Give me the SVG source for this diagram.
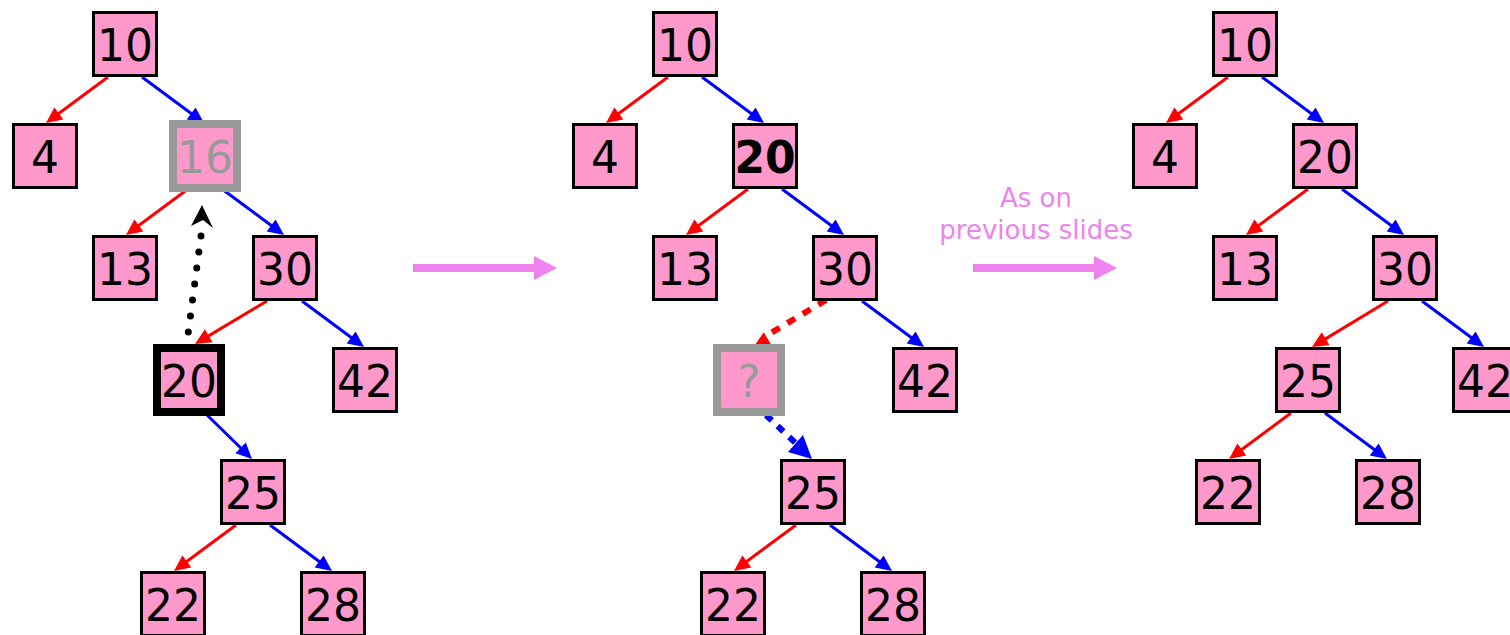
<svg xmlns="http://www.w3.org/2000/svg" width="1510" height="635" viewBox="0 0 1510 635">
  <style>
    .box { fill: #ff99cc; stroke: #000000; stroke-width: 3; }
    .ghost { fill: #ff99cc; stroke: #999999; stroke-width: 8; }
    .heavy { fill: #ff99cc; stroke: #000000; stroke-width: 8; }
    .lbl { font-family: "DejaVu Sans", Verdana, sans-serif; font-size: 44px; fill: #000000; text-anchor: middle; }
    .lbl.grey { fill: #999999; }
    .lbl.bold { font-weight: bold; }
    .red { stroke: #ff0000; stroke-width: 3; fill: none; }
    .blue { stroke: #0000ff; stroke-width: 3; fill: none; }
    .hr { fill: #ff0000; }
    .hb { fill: #0000ff; }
    .note { font-family: "DejaVu Sans", Verdana, sans-serif; font-size: 26px; fill: #ee82ee; text-anchor: middle; }
  </style>
  <defs>
    <!-- arrowhead with its tip at the origin, pointing along +x -->
    <path id="head" d="M-16,-7.5 L0,0 L-16,7.5 Z"/>
  </defs>

  <!-- connectors -->
  <g id="connectors">
    <!-- left tree -->
    <line class="red" x1="108" y1="77" x2="50" y2="120"/>
    <use href="#head" class="hr" transform="translate(46,123) rotate(143.4)"/>
    <line class="blue" x1="142" y1="77" x2="200" y2="120"/>
    <use href="#head" class="hb" transform="translate(204,123) rotate(36.6)"/>
    <line class="red" x1="188" y1="189" x2="130" y2="232"/>
    <use href="#head" class="hr" transform="translate(126,235) rotate(143.4)"/>
    <line class="blue" x1="222" y1="189" x2="280" y2="232"/>
    <use href="#head" class="hb" transform="translate(284,235) rotate(36.6)"/>
    <line class="red" x1="267" y1="301" x2="199" y2="341.6"/>
    <use href="#head" class="hr" transform="translate(195,344) rotate(149.2)"/>
    <line class="blue" x1="302" y1="301" x2="360" y2="344"/>
    <use href="#head" class="hb" transform="translate(364,347) rotate(36.6)"/>
    <line class="blue" x1="206" y1="414" x2="249" y2="456"/>
    <use href="#head" class="hb" transform="translate(252,459) rotate(44.4)"/>
    <line class="red" x1="236" y1="525" x2="178" y2="568"/>
    <use href="#head" class="hr" transform="translate(174,571) rotate(143.4)"/>
    <line class="blue" x1="270" y1="525" x2="328" y2="568"/>
    <use href="#head" class="hb" transform="translate(332,571) rotate(36.6)"/>
    <!-- dotted move of 20 up to the removed node -->
    <line x1="188.3" y1="332" x2="201" y2="236" stroke="#000000" stroke-width="7" stroke-linecap="round" stroke-dasharray="0 16.13"/>
    <path d="M202,205 L213,228 L203,220 L191,226 Z" fill="#000000"/>

    <!-- middle tree -->
    <line class="red" x1="668" y1="77" x2="610" y2="120"/>
    <use href="#head" class="hr" transform="translate(606,123) rotate(143.4)"/>
    <line class="blue" x1="702" y1="77" x2="760" y2="120"/>
    <use href="#head" class="hb" transform="translate(764,123) rotate(36.6)"/>
    <line class="red" x1="748" y1="189" x2="690" y2="232"/>
    <use href="#head" class="hr" transform="translate(686,235) rotate(143.4)"/>
    <line class="blue" x1="782" y1="189" x2="840" y2="232"/>
    <use href="#head" class="hb" transform="translate(844,235) rotate(36.6)"/>
    <line class="blue" x1="862" y1="301" x2="920" y2="344"/>
    <use href="#head" class="hb" transform="translate(924,347) rotate(36.6)"/>
    <line class="red" x1="796" y1="525" x2="738" y2="568"/>
    <use href="#head" class="hr" transform="translate(734,571) rotate(143.4)"/>
    <line class="blue" x1="830" y1="525" x2="888" y2="568"/>
    <use href="#head" class="hb" transform="translate(892,571) rotate(36.6)"/>
    <!-- dashed links around the vacated slot -->
    <line x1="826" y1="300" x2="766" y2="336" stroke="#ff0000" stroke-width="6" stroke-dasharray="9 9"/>
    <path d="M750,352 L763.8,332.2 L774,349.4 Z" fill="#ff0000"/>
    <line x1="766" y1="415" x2="796" y2="443.5" stroke="#0000ff" stroke-width="6" stroke-dasharray="8 8"/>
    <path d="M812,459 L788,452 L803,435 Z" fill="#0000ff"/>

    <!-- right tree -->
    <line class="red" x1="1228" y1="77" x2="1170" y2="120"/>
    <use href="#head" class="hr" transform="translate(1166,123) rotate(143.4)"/>
    <line class="blue" x1="1262" y1="77" x2="1320" y2="120"/>
    <use href="#head" class="hb" transform="translate(1324,123) rotate(36.6)"/>
    <line class="red" x1="1308" y1="189" x2="1250" y2="232"/>
    <use href="#head" class="hr" transform="translate(1246,235) rotate(143.4)"/>
    <line class="blue" x1="1342" y1="189" x2="1400" y2="232"/>
    <use href="#head" class="hb" transform="translate(1404,235) rotate(36.6)"/>
    <line class="red" x1="1388" y1="301" x2="1316" y2="344.6"/>
    <use href="#head" class="hr" transform="translate(1312,347) rotate(148.8)"/>
    <line class="blue" x1="1422" y1="301" x2="1480" y2="344"/>
    <use href="#head" class="hb" transform="translate(1484,347) rotate(36.6)"/>
    <line class="red" x1="1291" y1="413" x2="1233" y2="456"/>
    <use href="#head" class="hr" transform="translate(1229,459) rotate(143.4)"/>
    <line class="blue" x1="1325" y1="413" x2="1383" y2="456"/>
    <use href="#head" class="hb" transform="translate(1387,459) rotate(36.6)"/>

    <!-- step arrows -->
    <polygon points="413,264 534,264 534,256 557,268 534,280 534,272 413,272" fill="#ee82ee"/>
    <polygon points="973,264 1094,264 1094,256 1117,268 1094,280 1094,272 973,272" fill="#ee82ee"/>
  </g>

  <!-- left tree nodes -->
  <g id="t1-n10"><rect class="box" x="93.5" y="12.5" width="63" height="63"/><text class="lbl" x="125" y="60.5">10</text></g>
  <g id="t1-n4"><rect class="box" x="13.5" y="124.5" width="63" height="63"/><text class="lbl" x="45" y="172.5">4</text></g>
  <g id="t1-n16"><rect class="ghost" x="173" y="124" width="64" height="64"/><text class="lbl grey" x="205" y="172.5">16</text></g>
  <g id="t1-n13"><rect class="box" x="93.5" y="236.5" width="63" height="63"/><text class="lbl" x="125" y="284.5">13</text></g>
  <g id="t1-n30"><rect class="box" x="253.5" y="236.5" width="63" height="63"/><text class="lbl" x="285" y="284.5">30</text></g>
  <g id="t1-n20"><rect class="heavy" x="157" y="348" width="64" height="64"/><text class="lbl" x="189" y="396.5">20</text></g>
  <g id="t1-n42"><rect class="box" x="333.5" y="348.5" width="63" height="63"/><text class="lbl" x="365" y="396.5">42</text></g>
  <g id="t1-n25"><rect class="box" x="221.5" y="460.5" width="63" height="63"/><text class="lbl" x="253" y="508.5">25</text></g>
  <g id="t1-n22"><rect class="box" x="141.5" y="572.5" width="63" height="63"/><text class="lbl" x="173" y="620.5">22</text></g>
  <g id="t1-n28"><rect class="box" x="301.5" y="572.5" width="63" height="63"/><text class="lbl" x="333" y="620.5">28</text></g>

  <!-- middle tree nodes -->
  <g id="t2-n10"><rect class="box" x="653.5" y="12.5" width="63" height="63"/><text class="lbl" x="685" y="60.5">10</text></g>
  <g id="t2-n4"><rect class="box" x="573.5" y="124.5" width="63" height="63"/><text class="lbl" x="605" y="172.5">4</text></g>
  <g id="t2-n20"><rect class="box" x="733.5" y="124.5" width="63" height="63"/><text class="lbl bold" x="765" y="172.5">20</text></g>
  <g id="t2-n13"><rect class="box" x="653.5" y="236.5" width="63" height="63"/><text class="lbl" x="685" y="284.5">13</text></g>
  <g id="t2-n30"><rect class="box" x="813.5" y="236.5" width="63" height="63"/><text class="lbl" x="845" y="284.5">30</text></g>
  <g id="t2-nq"><rect class="ghost" x="717" y="348" width="64" height="64"/><text class="lbl grey" x="749" y="396.5">?</text></g>
  <g id="t2-n42"><rect class="box" x="893.5" y="348.5" width="63" height="63"/><text class="lbl" x="925" y="396.5">42</text></g>
  <g id="t2-n25"><rect class="box" x="781.5" y="460.5" width="63" height="63"/><text class="lbl" x="813" y="508.5">25</text></g>
  <g id="t2-n22"><rect class="box" x="701.5" y="572.5" width="63" height="63"/><text class="lbl" x="733" y="620.5">22</text></g>
  <g id="t2-n28"><rect class="box" x="861.5" y="572.5" width="63" height="63"/><text class="lbl" x="893" y="620.5">28</text></g>

  <!-- caption between middle and right trees -->
  <g id="caption">
    <text class="note" x="1036" y="207">As on</text>
    <text class="note" x="1036" y="239">previous slides</text>
  </g>

  <!-- right tree nodes -->
  <g id="t3-n10"><rect class="box" x="1213.5" y="12.5" width="63" height="63"/><text class="lbl" x="1245" y="60.5">10</text></g>
  <g id="t3-n4"><rect class="box" x="1133.5" y="124.5" width="63" height="63"/><text class="lbl" x="1165" y="172.5">4</text></g>
  <g id="t3-n20"><rect class="box" x="1293.5" y="124.5" width="63" height="63"/><text class="lbl" x="1325" y="172.5">20</text></g>
  <g id="t3-n13"><rect class="box" x="1213.5" y="236.5" width="63" height="63"/><text class="lbl" x="1245" y="284.5">13</text></g>
  <g id="t3-n30"><rect class="box" x="1373.5" y="236.5" width="63" height="63"/><text class="lbl" x="1405" y="284.5">30</text></g>
  <g id="t3-n25"><rect class="box" x="1276.5" y="348.5" width="63" height="63"/><text class="lbl" x="1308" y="396.5">25</text></g>
  <g id="t3-n42"><rect class="box" x="1453.5" y="348.5" width="63" height="63"/><text class="lbl" x="1485" y="396.5">42</text></g>
  <g id="t3-n22"><rect class="box" x="1196.5" y="460.5" width="63" height="63"/><text class="lbl" x="1228" y="508.5">22</text></g>
  <g id="t3-n28"><rect class="box" x="1356.5" y="460.5" width="63" height="63"/><text class="lbl" x="1388" y="508.5">28</text></g>
</svg>
